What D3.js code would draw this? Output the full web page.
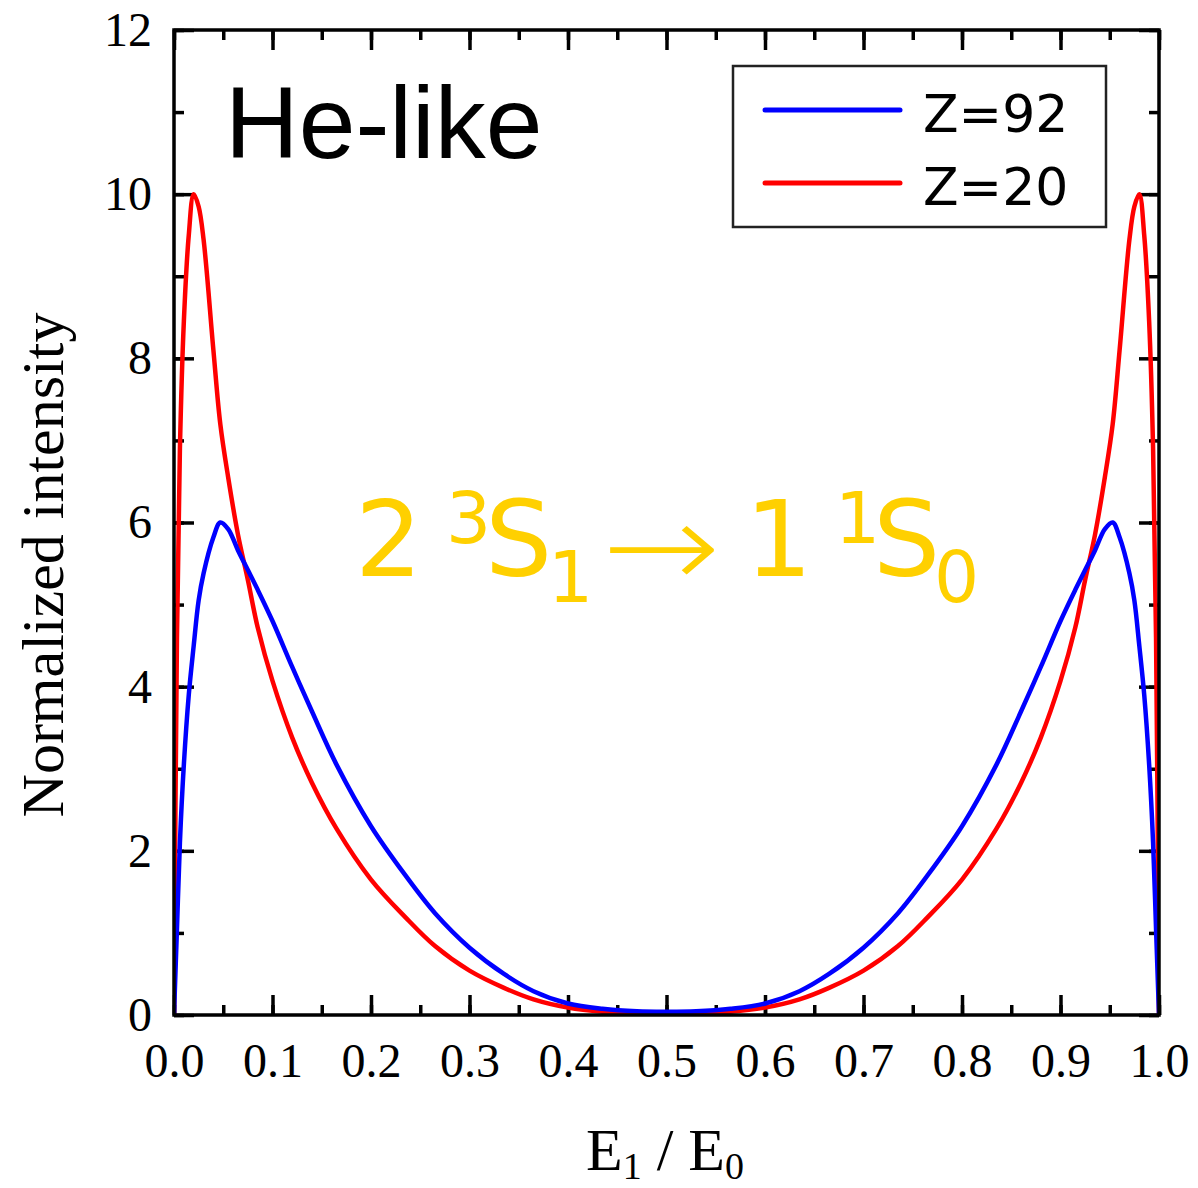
<!DOCTYPE html>
<html>
<head>
<meta charset="utf-8">
<script src="https://cdn.jsdelivr.net/npm/d3@7"></script>
<style>
  body { margin: 0; background: #fff; }
  svg { display: block; }
</style>
</head>
<body>
<div id="chart"></div>
<script>
var xVals = [0, 0.003, 0.006, 0.01, 0.015, 0.02, 0.025, 0.03, 0.04, 0.047, 0.055, 0.065, 0.075, 0.085,
  0.1, 0.12, 0.14, 0.165, 0.2, 0.235, 0.265, 0.3, 0.335, 0.365, 0.4, 0.435, 0.47, 0.5,
  0.53, 0.565, 0.6, 0.635, 0.665, 0.7, 0.735, 0.765, 0.8, 0.835, 0.86, 0.88, 0.9,
  0.915, 0.925, 0.935, 0.945, 0.953, 0.96, 0.97, 0.975, 0.98, 0.985, 0.99, 0.994, 0.997, 1];

var z92 = [0, 1.05, 2.1, 3.05, 3.9, 4.5, 5.05, 5.38, 5.82, 6.0, 5.92, 5.66, 5.42, 5.18,
  4.8, 4.24, 3.7, 3.05, 2.3, 1.7, 1.24, 0.82, 0.5, 0.29, 0.14, 0.075, 0.045, 0.04,
  0.045, 0.075, 0.14, 0.29, 0.5, 0.82, 1.24, 1.7, 2.3, 3.05, 3.7, 4.24, 4.8,
  5.18, 5.42, 5.66, 5.92, 6.0, 5.82, 5.38, 5.05, 4.5, 3.9, 3.05, 2.1, 1.05, 0];

var z20 = [0, 4.6, 6.9, 8.45, 9.5, 10.0, 9.85, 9.45, 8.1, 7.2, 6.55, 5.85, 5.3, 4.72,
  4.07, 3.38, 2.83, 2.27, 1.65, 1.19, 0.84, 0.54, 0.33, 0.19, 0.09, 0.04, 0.02, 0.015,
  0.02, 0.04, 0.09, 0.19, 0.33, 0.54, 0.84, 1.19, 1.65, 2.27, 2.83, 3.38, 4.07,
  4.72, 5.3, 5.85, 6.55, 7.2, 8.1, 9.45, 9.85, 10.0, 9.5, 8.45, 6.9, 4.6, 0];

var xTicks = [0, 0.1, 0.2, 0.3, 0.4, 0.5, 0.6, 0.7, 0.8, 0.9, 1.0];
var yTicks = [0, 2, 4, 6, 8, 10, 12];
var legendNames = ["Z=92", "Z=20"];

var margin = { top: 30, right: 39, bottom: 173, left: 174 },
    W = 1198, H = 1188,
    width = W - margin.left - margin.right,
    height = H - margin.top - margin.bottom;

var svg = d3.select("#chart").append("svg")
    .attr("width", W)
    .attr("height", H);

var g = svg.append("g")
    .attr("transform", "translate(" + margin.left + "," + margin.top + ")");

var x = d3.scaleLinear().domain([0, 1]).range([0, width]);
var y = d3.scaleLinear().domain([0, 12]).range([height, 0]);

var serif = "'Liberation Serif', 'Times New Roman', serif";
var sans = "'DejaVu Sans', Verdana, sans-serif";

// minor ticks (all 4 sides)
var xMinor = d3.range(0, 1.0001, 0.05), yMinor = d3.range(0, 12.001, 1);
function styleAxis(sel) {
  sel.select(".domain").remove();
  sel.selectAll(".tick line").attr("stroke", "#000").attr("stroke-width", 3.5);
}
g.append("g").attr("transform", "translate(0," + height + ")")
  .call(d3.axisBottom(x).tickValues(xMinor).tickSize(-10).tickFormat("")).call(styleAxis);
g.append("g")
  .call(d3.axisTop(x).tickValues(xMinor).tickSize(-10).tickFormat("")).call(styleAxis);
g.append("g")
  .call(d3.axisLeft(y).tickValues(yMinor).tickSize(-10).tickFormat("")).call(styleAxis);
g.append("g").attr("transform", "translate(" + width + ",0)")
  .call(d3.axisRight(y).tickValues(yMinor).tickSize(-10).tickFormat("")).call(styleAxis);

// major ticks
var xAxis = g.append("g").attr("transform", "translate(0," + height + ")")
  .call(d3.axisBottom(x).tickValues(xTicks).tickSize(-20).tickPadding(28).tickFormat(d3.format(".1f")))
  .call(styleAxis);
g.append("g")
  .call(d3.axisTop(x).tickValues(xTicks).tickSize(-20).tickFormat("")).call(styleAxis);
var yAxis = g.append("g")
  .call(d3.axisLeft(y).tickValues(yTicks).tickSize(-20).tickPadding(22).tickFormat(d3.format("d")))
  .call(styleAxis);
g.append("g").attr("transform", "translate(" + width + ",0)")
  .call(d3.axisRight(y).tickValues(yTicks).tickSize(-20).tickFormat("")).call(styleAxis);

xAxis.selectAll("text").attr("font-family", serif).attr("font-size", 48).attr("fill", "#000");
yAxis.selectAll("text").attr("font-family", serif).attr("font-size", 48).attr("fill", "#000");

// curves
var line = d3.line()
  .x(function(d) { return x(d[0]); })
  .y(function(d) { return y(d[1]); })
  .curve(d3.curveCatmullRom.alpha(0.5));

var series = [
  { name: legendNames[0], color: "#0000ff", vals: z92 },
  { name: legendNames[1], color: "#ff0000", vals: z20 }
];

g.append("defs").append("clipPath").attr("id", "clip")
  .append("rect").attr("width", width).attr("height", height);

g.selectAll(".curve")
  .data(series.slice().reverse())
  .enter().append("path")
  .attr("class", "curve")
  .attr("clip-path", "url(#clip)")
  .attr("fill", "none")
  .attr("stroke", function(d) { return d.color; })
  .attr("stroke-width", 4.5)
  .attr("stroke-linejoin", "round")
  .attr("d", function(d) { return line(d.vals.map(function(v, i) { return [xVals[i], v]; })); });

// frame
g.append("rect")
  .attr("width", width).attr("height", height)
  .attr("fill", "none").attr("stroke", "#000").attr("stroke-width", 3.5);

// legend
var leg = svg.append("g").attr("transform", "translate(733,66)");
leg.append("rect").attr("width", 373).attr("height", 161)
  .attr("fill", "#fff").attr("stroke", "#222").attr("stroke-width", 2.5);
var li = leg.selectAll(".li").data(series).enter().append("g")
  .attr("transform", function(d, i) { return "translate(0," + (44 + i * 73) + ")"; });
li.append("line").attr("x1", 32).attr("x2", 167)
  .attr("stroke", function(d) { return d.color; })
  .attr("stroke-width", 5).attr("stroke-linecap", "round");
li.append("text").attr("x", 190).attr("y", 22)
  .attr("font-family", sans).attr("font-size", 52)
  .text(function(d) { return d.name; });

// "He-like"
svg.append("text").attr("x", 225).attr("y", 158)
  .attr("font-family", "'Liberation Sans', Arial, sans-serif").attr("font-size", 102)
  .text("He-like");

// transition label
var gold = "#ffd000";
var tr = svg.append("g").attr("fill", gold).attr("font-family", sans);
function glyph(txt, gx, gy, size, sx, wt) {
  tr.append("text")
    .attr("transform", "translate(" + gx + "," + gy + ") scale(" + sx + ",1)")
    .attr("font-size", size)
    .attr("font-weight", wt || 400)
    .text(txt);
}
glyph("2", 355, 576, 106, 1);
glyph("3", 446, 543, 71, 1);
glyph("S", 485, 576, 106, 1);
glyph("1", 548, 602, 71, 1);
glyph("\u2192", 602, 588, 120, 1.18, 200);
glyph("1", 745, 576, 106, 1);
glyph("1", 835, 543, 71, 1);
glyph("S", 873, 576, 106, 1);
glyph("0", 934, 602, 71, 1);

// axis titles
svg.append("text")
  .attr("transform", "translate(63,565) rotate(-90)")
  .attr("text-anchor", "middle")
  .attr("font-family", serif).attr("font-size", 60)
  .text("Normalized intensity");

var xt = svg.append("text")
  .attr("x", 665).attr("y", 1170)
  .attr("text-anchor", "middle")
  .attr("font-family", serif).attr("font-size", 60);
xt.append("tspan").text("E");
xt.append("tspan").attr("font-size", 38).attr("dy", 9).text("1");
xt.append("tspan").attr("dy", -9).text(" / E");
xt.append("tspan").attr("font-size", 38).attr("dy", 9).text("0");
</script>
</body>
</html>
